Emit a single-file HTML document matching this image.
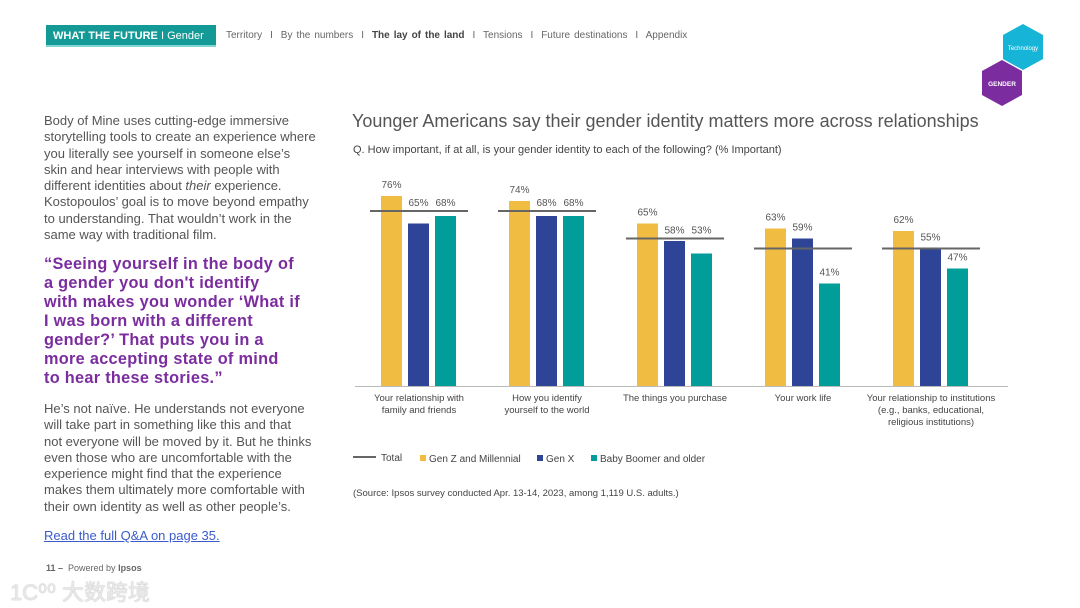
<!DOCTYPE html>
<html><head><meta charset="utf-8"><style>
body{margin:0;width:1080px;height:608px;background:#fff;font-family:"Liberation Sans",Arial,sans-serif;position:relative;overflow:hidden}
.a{position:absolute}
.body{left:44px;width:300px;font-size:13px;line-height:16.3px;color:#555;white-space:nowrap}
.quote{left:44px;width:300px;top:255px;font-size:16.3px;letter-spacing:0.3px;line-height:19px;color:#7b2c9e;font-weight:bold;white-space:nowrap}
</style></head><body>
<div class="a" style="left:46px;top:25px;width:170px;height:22px;background:#139a96;border-bottom:2px solid #7fd6d2;color:#fff;font-size:11px;line-height:22px;padding-left:7px;box-sizing:border-box"><b>WHAT THE FUTURE</b> I Gender</div>
<div class="a" style="left:226px;top:30px;font-size:10px;color:#666;word-spacing:1.2px">Territory &nbsp;I&nbsp; By the numbers &nbsp;I&nbsp; <b style="color:#444">The lay of the land</b> &nbsp;I&nbsp; Tensions &nbsp;I&nbsp; Future destinations &nbsp;I&nbsp; Appendix</div>
<svg class="a" style="left:975px;top:20px" width="75" height="90">
<polygon points="48,4 68,15 68,39 48,50 28,39 28,15" fill="#16b4d6"/>
<text x="48" y="30" font-size="6" fill="#fff" text-anchor="middle" font-family="Liberation Sans">Technology</text>
<polygon points="27,40 47,51 47,75 27,86 7,75 7,51" fill="#7b2c9e"/>
<text x="27" y="66" font-size="6.5" fill="#fff" font-weight="bold" text-anchor="middle" font-family="Liberation Sans">GENDER</text>
</svg>
<div class="a body" style="top:113px">Body of Mine uses cutting-edge immersive<br>storytelling tools to create an experience where<br>you literally see yourself in someone else’s<br>skin and hear interviews with people with<br>different identities about <i>their</i> experience.<br>Kostopoulos’ goal is to move beyond empathy<br>to understanding. That wouldn’t work in the<br>same way with traditional film.</div>
<div class="a quote">“Seeing yourself in the body of<br>a gender you don't identify<br>with makes you wonder ‘What if<br>I was born with a different<br>gender?’ That puts you in a<br>more accepting state of mind<br>to hear these stories.”</div>
<div class="a body" style="top:401px">He’s not naïve. He understands not everyone<br>will take part in something like this and that<br>not everyone will be moved by it. But he thinks<br>even those who are uncomfortable with the<br>experience might find that the experience<br>makes them ultimately more comfortable with<br>their own identity as well as other people’s.</div>
<div class="a" style="left:44px;top:528px;font-size:13px;color:#3b5bcc;text-decoration:underline">Read the full Q&amp;A on page 35.</div>
<div class="a" style="left:46px;top:563px;font-size:9px;color:#666"><b>11 –</b> &nbsp;Powered by <b>Ipsos</b></div>
<div class="a" style="left:10px;top:575px;font-size:22px;color:#e8e8e8;font-family:'Liberation Sans','Noto Sans CJK SC',sans-serif;text-shadow:0 0 1px #999">1C⁰⁰ 大数跨境</div>
<div class="a" style="left:352px;top:111px;font-size:18px;color:#555">Younger Americans say their gender identity matters more across relationships</div>
<div class="a" style="left:353px;top:144px;font-size:11px;color:#444">Q. How important, if at all, is your gender identity to each of the following? (% Important)</div>
<svg class="a" id="chart" style="left:0;top:0" width="1080" height="608"></svg>
<script>
const categories=[["Your relationship with","family and friends"],["How you identify","yourself to the world"],["The things you purchase"],["Your work life"],["Your relationship to institutions","(e.g., banks, educational,","religious institutions)"]];
const genZ=[76,74,65,63,62];
const genX=[65,68,58,59,55];
const boomer=[68,68,53,41,47];
const total=[70,70,59,55,55];
const seriesNames=["Gen Z and Millennial","Gen X","Baby Boomer and older"];
const colors=["#f0bc42","#2e4497","#009d9a"];
const svg=document.getElementById('chart');const NS="http://www.w3.org/2000/svg";
const base=386,scale=2.5;
const y=v=>base-v*scale;
const gx=i=>419+i*128;
function mk(t,a,txt){const e=document.createElementNS(NS,t);for(const k in a)e.setAttribute(k,a[k]);if(txt!=null)e.textContent=txt;svg.appendChild(e);return e;}
const ax=mk('line',{x1:355,x2:1008,y1:base+0.5,y2:base+0.5,stroke:'#bbb','stroke-width':1});


[genZ,genX,boomer].forEach((s,si)=>{s.forEach((v,i)=>{
 const x=gx(i)-38+si*27;
 const r=mk('rect',{x:x,y:y(v),width:21,height:v*scale,fill:colors[si]});
 
 
 let ly=y(v)-8;
 const tl=y(total[i]);
 if(ly>tl-6&&ly<tl+12) ly=tl-5;
 const t=mk('text',{x:x+10.5,y:ly,'font-size':10,fill:'#555','text-anchor':'middle','font-family':'Liberation Sans'},v+'%');
 
 
});});
total.forEach((v,i)=>{
 const l=mk('line',{x1:gx(i)-49,x2:gx(i)+49,y1:y(v),y2:y(v),stroke:'#666','stroke-width':2});
 
 
});
categories.forEach((c,i)=>{c.forEach((ln,j)=>{
 const t=mk('text',{x:gx(i),y:401+j*12,'font-size':9.5,fill:'#444','text-anchor':'middle','font-family':'Liberation Sans'},ln);
 
 
});});
const lt=mk('line',{x1:353,x2:376,y1:457,y2:457,stroke:'#666','stroke-width':2});


const ltt=mk('text',{x:381,y:461,'font-size':10,fill:'#444','font-family':'Liberation Sans'},'Total');


const lx=[420,537,591];
seriesNames.forEach((n,i)=>{
 const r=mk('rect',{x:lx[i],y:455,width:6,height:6,fill:colors[i]});
 
 
 const t=mk('text',{x:lx[i]+9,y:462,'font-size':10,fill:'#444','font-family':'Liberation Sans'},n);
 
 
});
const src=mk('text',{x:353,y:496,'font-size':9.5,fill:'#444','font-family':'Liberation Sans'},'(Source: Ipsos survey conducted Apr. 13-14, 2023, among 1,119 U.S. adults.)');


</script>
</body></html>
